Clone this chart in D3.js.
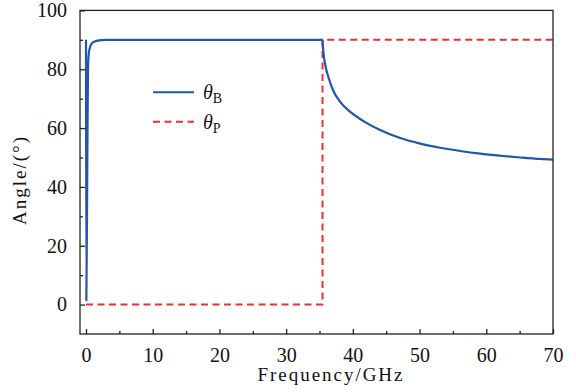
<!DOCTYPE html>
<html><head><meta charset="utf-8">
<script src="https://cdn.jsdelivr.net/npm/d3@7"></script>
<style>body{margin:0;background:#fff}svg{display:block}</style>
</head><body><svg id="c" width="576" height="392"></svg>
<script>
const freqB = [0, 0.05, 0.2, 0.3, 0.4, 0.6, 0.9, 1.3, 2, 3, 5, 10, 20, 30, 35.44, 35.6, 35.85, 36.35, 37.1, 38.1, 39.35, 41.35, 43.85, 47.1, 50.1, 53.1, 56.1, 59.1, 62.1, 65.1, 68.1, 70];
const thetaB = [90, 1.4, 50, 80, 85, 87.5, 88.8, 89.4, 89.8, 89.95, 90, 90, 90, 90, 90, 85.5, 81.6, 77.2, 72.5, 68.9, 66.0, 62.7, 59.6, 56.6, 54.7, 53.3, 52.2, 51.3, 50.6, 50.0, 49.5, 49.3];
const freqP = [0, 35.45, 35.45, 70];
const thetaP = [0, 0, 90, 90];
const xTicks = [0, 10, 20, 30, 40, 50, 60, 70];
const yTicks = [0, 20, 40, 60, 80, 100];
const xMinor = [5, 15, 25, 35, 45, 55, 65];
const yMinor = [10, 30, 50, 70, 90];

const FONT = "'Liberation Serif', 'DejaVu Serif', serif";
const svg = d3.select("#c");
const L = 80, R = 553, T = 10.4, B = 334;
const x = d3.scaleLinear().domain([-0.9, 70]).range([L, R]);
const y = d3.scaleLinear().domain([-10, 100]).range([B, T]);

// red dashed
svg.append("path").datum(freqP.map((f, i) => [f, thetaP[i]]))
  .attr("d", d3.line().x(d => x(d[0])).y(d => y(d[1]))).attr("fill", "none").attr("stroke", "#ee2f2f")
  .attr("stroke-width", 2).attr("stroke-dasharray", "7,4.5");
// blue
const ptsB = freqB.map((f, i) => [f, thetaB[i]]);
const split = freqB.indexOf(35.44);
svg.append("path").datum(ptsB.slice(0, split + 1))
  .attr("d", d3.line().x(d => x(d[0])).y(d => y(d[1])).curve(d3.curveMonotoneX))
  .attr("fill", "none").attr("stroke", "#2157a8").attr("stroke-width", 2.2);
svg.append("path").datum(ptsB.slice(split))
  .attr("d", d3.line().x(d => x(d[0])).y(d => y(d[1])).curve(d3.curveMonotoneX))
  .attr("fill", "none").attr("stroke", "#2157a8").attr("stroke-width", 2.2);

// frame
svg.append("rect").attr("x", L).attr("y", T).attr("width", R - L).attr("height", B - T)
  .attr("fill", "none").attr("stroke", "#222").attr("stroke-width", 1.3);

function styleAxis(g) {
  g.attr("font-family", null);
  g.select(".domain").remove();
  g.selectAll("text").style("font-family", FONT).style("font-size", "20px").attr("fill", "#111");
  g.selectAll("line").attr("stroke", "#222").attr("stroke-width", 1.3);
}
svg.append("g").attr("transform", `translate(0,${B})`)
  .call(d3.axisBottom(x).tickValues(xTicks).tickSizeInner(-5).tickSizeOuter(0).tickPadding(14)).call(styleAxis);
svg.append("g").attr("transform", `translate(0,${B})`)
  .call(d3.axisBottom(x).tickValues(xMinor).tickSizeInner(-3).tickSizeOuter(0).tickFormat("")).call(styleAxis);
svg.append("g").attr("transform", `translate(${L},0)`)
  .call(d3.axisLeft(y).tickValues(yTicks).tickSizeInner(-5).tickSizeOuter(0).tickPadding(13)).call(styleAxis);
svg.append("g").attr("transform", `translate(${L},0)`)
  .call(d3.axisLeft(y).tickValues(yMinor).tickSizeInner(-3).tickSizeOuter(0).tickFormat("")).call(styleAxis);

// axis titles
svg.append("text").attr("x", 330).attr("y", 381).attr("text-anchor", "middle")
  .style("font-family", FONT).style("font-size", "19px").attr("fill", "#111")
  .attr("textLength", 145).attr("lengthAdjust", "spacing").text("Frequency/GHz");
svg.append("text").attr("transform", "translate(26,181) rotate(-90)").attr("text-anchor", "middle")
  .style("font-family", FONT).style("font-size", "19px").attr("fill", "#111")
  .attr("textLength", 88).attr("lengthAdjust", "spacing").text("Angle/(°)");

// legend
const leg = [{lab: "B", color: "#2157a8", dash: null, yy: 92.3}, {lab: "P", color: "#ee2f2f", dash: "7,4.5", yy: 121.7}];
leg.forEach(d => {
  svg.append("line").attr("x1", 153).attr("x2", 194).attr("y1", d.yy).attr("y2", d.yy)
    .attr("stroke", d.color).attr("stroke-width", 2).attr("stroke-dasharray", d.dash);
  const t = svg.append("text").attr("x", 203).attr("y", d.yy + 7)
    .style("font-family", FONT).style("font-size", "20px").attr("fill", "#111");
  t.append("tspan").attr("font-style", "italic").text("θ");
  t.append("tspan").style("font-size", "14px").attr("dy", 4).text(d.lab);
});
</script></body></html>
